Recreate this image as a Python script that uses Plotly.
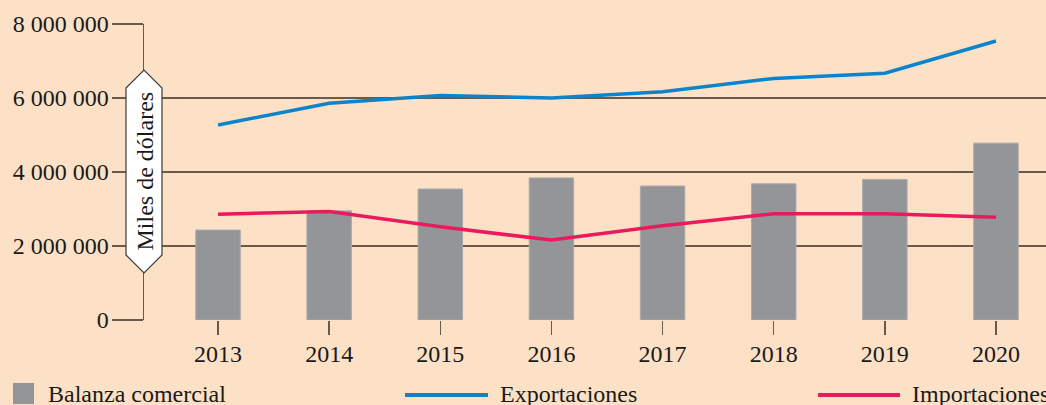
import plotly.graph_objects as go

# ---- data ----
years = [2013, 2014, 2015, 2016, 2017, 2018, 2019, 2020]
year_labels = ["2013", "2014", "2015", "2016", "2017", "2018", "2019", "2020"]
balanza = [2430000, 2950000, 3540000, 3840000, 3620000, 3680000, 3800000, 4780000]
exportaciones = [5270000, 5860000, 6070000, 6000000, 6170000, 6530000, 6670000, 7540000]
importaciones = [2860000, 2930000, 2520000, 2160000, 2550000, 2870000, 2870000, 2780000]
y_ticks = [0, 2000000, 4000000, 6000000, 8000000]
y_tick_labels = ["0", "2 000 000", "4 000 000", "6 000 000", "8 000 000"]
series_names = ["Balanza comercial", "Exportaciones", "Importaciones"]
y_title = "Miles de dólares"

# ---- style ----
BG = "#FCE1C6"
GRID = "#6a5a4c"
BAR = "#939598"
BLUE = "#0B84CC"
PINK = "#EA1A5E"
TXT = "#1a1a1a"
FONT = "Liberation Serif"

W, H = 1046, 405
ML, MR, MT, MB = 144, 0, 24, 85
PW, PH = W - ML - MR, H - MT - MB


def px(x):
    # screen x -> paper coordinate
    return (x - ML) / PW


def py(y):
    # screen y -> paper coordinate
    return (H - MB - y) / PH


fig = go.Figure()
fig.add_trace(go.Bar(x=years, y=balanza, width=0.4, marker=dict(color=BAR, line=dict(color="#a9a9ab", width=1)),
                     name=series_names[0]))
fig.add_trace(go.Scatter(x=years, y=exportaciones, mode="lines", line=dict(color=BLUE, width=3.5),
                         name=series_names[1]))
fig.add_trace(go.Scatter(x=years, y=importaciones, mode="lines", line=dict(color=PINK, width=3.5),
                         name=series_names[2]))

shapes = []
annotations = []

# hexagonal y-axis title box
hx = [126, 144, 162, 162, 144, 126]
hy = [88, 70, 88, 255, 273, 255]
path = "M " + " L ".join(f"{px(a):.5f},{py(b):.5f}" for a, b in zip(hx, hy)) + " Z"
shapes.append(dict(type="path", xref="paper", yref="paper", path=path, fillcolor="white",
                   line=dict(color="#3a3a3a", width=1.2), layer="above"))
annotations.append(dict(xref="paper", yref="paper", x=px(144), y=py(171.5), text=y_title, textangle=-90,
                        showarrow=False, font=dict(family=FONT, size=24, color=TXT),
                        xanchor="center", yanchor="middle"))

# manual legend
ly = 394
shapes.append(dict(type="rect", xref="paper", yref="paper", x0=px(13), x1=px(34), y0=py(383), y1=py(404),
                   fillcolor=BAR, line=dict(width=0)))
shapes.append(dict(type="line", xref="paper", yref="paper", x0=px(405), x1=px(488), y0=py(395), y1=py(395),
                   line=dict(color=BLUE, width=4)))
shapes.append(dict(type="line", xref="paper", yref="paper", x0=px(818), x1=px(900), y0=py(395), y1=py(395),
                   line=dict(color=PINK, width=4)))
for name, x0 in zip(series_names, [46, 498, 910]):
    annotations.append(dict(xref="paper", yref="paper", x=px(x0), y=py(ly), text=name, showarrow=False,
                            xanchor="left", yanchor="middle", font=dict(family=FONT, size=24, color=TXT)))

fig.update_layout(
    width=W, height=H,
    margin=dict(l=ML, r=MR, t=MT, b=MB, pad=0),
    paper_bgcolor=BG, plot_bgcolor=BG,
    showlegend=False,
    bargap=0,
    shapes=shapes,
    annotations=annotations,
    xaxis=dict(range=[2012.334, 2020.45], tickvals=years, ticktext=year_labels, ticks="outside", ticklen=14,
               tickcolor=GRID, tickwidth=1.5, showgrid=False, showline=False, zeroline=False,
               ticklabelstandoff=-2,
               tickfont=dict(family=FONT, size=24, color=TXT), fixedrange=True),
    yaxis=dict(range=[0, 8000000], tickvals=y_ticks, ticktext=y_tick_labels, ticks="outside", ticklen=31,
               tickcolor=GRID, tickwidth=1.5, showgrid=True, gridcolor=GRID, gridwidth=1.5,
               showline=True, linecolor=GRID, linewidth=1.5, zeroline=False,
               ticklabelstandoff=-2,
               tickfont=dict(family=FONT, size=24, color=TXT), fixedrange=True),
)

fig.write_html(
    "out.html",
    config={"displayModeBar": False, "staticPlot": True},
    post_script=(
        "document.documentElement.style.margin='0';document.body.style.margin='0';"
        "document.body.style.overflow='hidden';document.body.style.background='" + BG + "';"
    ),
)
